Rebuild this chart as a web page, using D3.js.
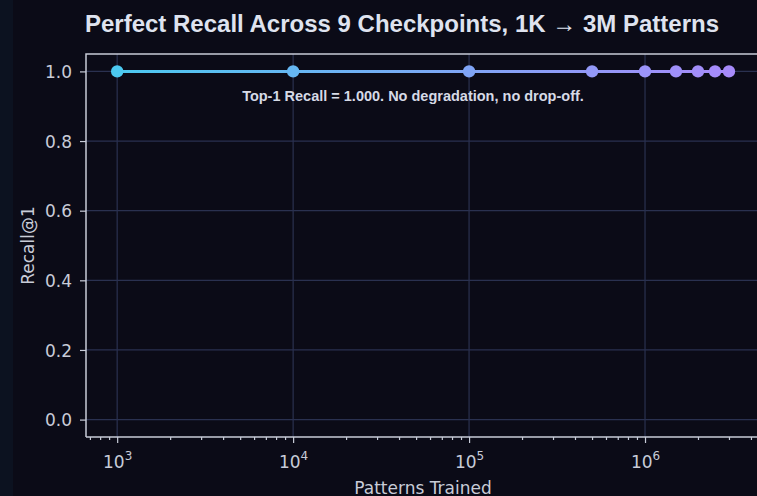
<!DOCTYPE html>
<html>
<head>
<meta charset="utf-8">
<script src="https://cdn.jsdelivr.net/npm/d3@7"></script>
<style>
  body { margin: 0; background: #0b0b17; }
  svg { display: block; }
</style>
</head>
<body>
<script>
// checkpoints (patterns trained) and recall@1 at each
var patterns = [1000, 10000, 100000, 500000, 1000000, 1500000, 2000000, 2500000, 3000000];
var recall = [1.0, 1.0, 1.0, 1.0, 1.0, 1.0, 1.0, 1.0, 1.0];
var yTicks = [0.0, 0.2, 0.4, 0.6, 0.8, 1.0];
var xTicks = [1e3, 1e4, 1e5, 1e6];

var title = "Perfect Recall Across 9 Checkpoints, 1K \u2192 3M Patterns";
var note = "Top-1 Recall = 1.000. No degradation, no drop-off.";

var width = 757, height = 496;
var plotLeft = 86, plotTop = 54, plotBottom = 437;

var x = d3.scaleLog().domain([665, 5e6]).range([plotLeft, 768]);
var y = d3.scaleLinear().domain([-0.05, 1.05]).range([plotBottom, plotTop]);

var colorAt = d3.scaleLog().domain([1e3, 3e6]).range(["#4cc9f0", "#a78bfa"]).interpolate(d3.interpolateRgb);

var svg = d3.select('body').append('svg')
    .attr('width', width)
    .attr('height', height);

svg.append('rect').attr('width', width).attr('height', height).attr('fill', '#0b0b17');
svg.append('rect').attr('width', 13).attr('height', height).attr('fill', '#0c1220');

// grid
var grid = svg.append('g');
grid.selectAll('.gy').data(yTicks).enter().append('line')
    .attr('x1', plotLeft).attr('x2', width)
    .attr('y1', function(d){ return y(d); }).attr('y2', function(d){ return y(d); })
    .attr('stroke', '#2a3150').attr('stroke-width', 1.2);
grid.selectAll('.gx').data(xTicks).enter().append('line')
    .attr('x1', function(d){ return x(d); }).attr('x2', function(d){ return x(d); })
    .attr('y1', plotTop).attr('y2', plotBottom)
    .attr('stroke', '#2a3150').attr('stroke-width', 1.2);

// axes
var yAxis = d3.axisLeft(y).tickValues(yTicks).tickFormat(d3.format('.1f')).tickSize(6).tickPadding(8);
svg.append('g').attr('transform', 'translate(' + plotLeft + ',0)').call(yAxis)
    .selectAll('.tick text').attr('dy', '0.36em');

var minor = [];
[100, 1000, 10000, 100000, 1000000].forEach(function(b){
    for (var k = 2; k <= 9; k++) {
        var v = b * k;
        if (v > x.domain()[0] && v < x.domain()[1]) minor.push(v);
    }
});
var xMinor = d3.axisBottom(x).tickValues(minor).tickSize(3).tickFormat('');
svg.append('g').attr('transform', 'translate(0,' + plotBottom + ')').call(xMinor);

var xAxis = d3.axisBottom(x).tickValues(xTicks).tickSize(6).tickFormat('');
var gx = svg.append('g').attr('transform', 'translate(0,' + plotBottom + ')').call(xAxis);
gx.selectAll('.tick').append('text')
    .attr('y', 31).attr('text-anchor', 'middle')
    .each(function(d){
        var t = d3.select(this);
        t.append('tspan').text('10');
        t.append('tspan').attr('dy', -8).attr('font-size', 12).text(Math.round(Math.log10(d)));
    });

svg.selectAll('.domain').remove();
svg.selectAll('.tick line').attr('stroke', '#c8ccd8').attr('stroke-width', 1.2);
svg.selectAll('.tick text').attr('fill', '#c8ccd8')
    .attr('font-family', 'DejaVu Sans').attr('font-size', 17);

// spines
svg.append('path')
    .attr('d', 'M' + plotLeft + ',' + plotBottom + 'V' + plotTop + 'H' + width)
    .attr('fill', 'none').attr('stroke', '#c8ccd8').attr('stroke-width', 1.5);
svg.append('line')
    .attr('x1', plotLeft).attr('x2', width).attr('y1', plotBottom).attr('y2', plotBottom)
    .attr('stroke', '#c8ccd8').attr('stroke-width', 1.5);

// gradient line
var defs = svg.append('defs');
var grad = defs.append('linearGradient').attr('id', 'lineGrad')
    .attr('gradientUnits', 'userSpaceOnUse')
    .attr('x1', x(patterns[0])).attr('x2', x(patterns[patterns.length - 1]))
    .attr('y1', 0).attr('y2', 0);
grad.append('stop').attr('offset', '0%').attr('stop-color', colorAt(patterns[0]));
grad.append('stop').attr('offset', '100%').attr('stop-color', colorAt(patterns[patterns.length - 1]));

var pts = patterns.map(function(p, i){ return { p: p, r: recall[i] }; });
var line = d3.line()
    .x(function(d){ return x(d.p); })
    .y(function(d){ return y(d.r); });

svg.append('path').attr('d', line(pts))
    .attr('fill', 'none').attr('stroke', 'url(#lineGrad)').attr('stroke-width', 3);

svg.selectAll('.pt').data(pts).enter().append('circle')
    .attr('cx', function(d){ return x(d.p); })
    .attr('cy', function(d){ return y(d.r); })
    .attr('r', 6.2)
    .attr('fill', function(d){ return colorAt(d.p); });

// texts
svg.append('text').attr('x', 402).attr('y', 32).attr('text-anchor', 'middle')
    .attr('font-family', 'Liberation Sans, Arial, sans-serif').attr('font-weight', 'bold')
    .attr('font-size', 24).attr('fill', '#dfe3ef').text(title);

svg.append('text').attr('x', 413).attr('y', 101).attr('text-anchor', 'middle')
    .attr('font-family', 'Liberation Sans, Arial, sans-serif').attr('font-weight', 'bold')
    .attr('font-size', 14.5).attr('fill', '#d6dae6').text(note);

svg.append('text')
    .attr('transform', 'translate(34,' + ((plotTop + plotBottom) / 2) + ') rotate(-90)')
    .attr('text-anchor', 'middle')
    .attr('font-family', 'DejaVu Sans').attr('font-size', 17).attr('fill', '#c8ccd8')
    .text('Recall@1');

svg.append('text').attr('x', 423).attr('y', 494).attr('text-anchor', 'middle')
    .attr('font-family', 'DejaVu Sans').attr('font-size', 17).attr('fill', '#c8ccd8')
    .text('Patterns Trained');
</script>
</body>
</html>
